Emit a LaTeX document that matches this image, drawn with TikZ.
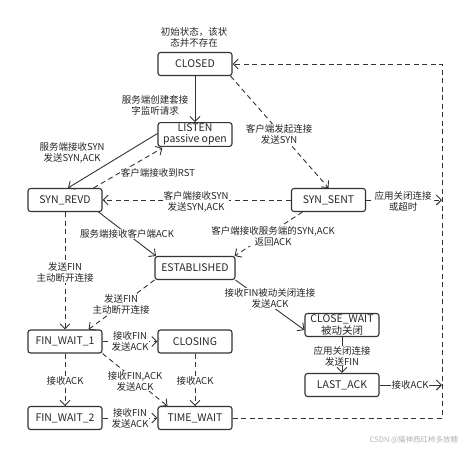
\documentclass[tikz,border=0pt]{standalone}
\usepackage{fontspec}
\setmainfont{Noto Sans CJK SC}
\usetikzlibrary{arrows.meta}
\begin{document}
\begin{tikzpicture}[x=1pt,y=-1pt,
  st/.style={draw=black!80, line width=1.1pt, rounded corners=2.5pt, minimum width=74pt, minimum height=23pt, inner sep=1pt, font=\fontsize{10.5}{11.5}\selectfont, align=center, text=black!85},
  lbl/.style={font=\fontsize{9.5}{11}\selectfont, align=center, inner sep=0.5pt, text=black!85, fill=white},
  ar/.style={draw=black!80, line width=0.9pt, -{Straight Barb[length=5pt,width=10pt]}},
  da/.style={ar, dash pattern=on 5pt off 3.5pt}]
\useasboundingbox (0,0) rectangle (474,448);

% states
\node[st] (closed) at (195,64) {CLOSED};
\node[st] (listen) at (195,134.5) {LISTEN\\passive open};
\node[st] (synrevd) at (65,200) {SYN\_REVD};
\node[st] (synsent) at (328.5,200) {SYN\_SENT};
\node[st, minimum width=80pt] (est) at (195,268) {ESTABLISHED};
\node[st] (fw1) at (65,341.5) {FIN\_WAIT\_1};
\node[st] (closing) at (195,341.5) {CLOSING};
\node[st] (fw2) at (65,418) {FIN\_WAIT\_2};
\node[st] (tw) at (195,418) {TIME\_WAIT};
\node[st] (cw) at (342,325) {CLOSE\_WAIT\\被动关闭};
\node[st] (la) at (342,385) {LAST\_ACK};

% right-hand return line
\coordinate (rt) at (442,64);
\coordinate (r1) at (442,200);
\coordinate (r2) at (442,385);
\coordinate (rb) at (442,418);

\node[lbl, fill=none] (init) at (194,37.5) {初始状态，该状\\态并不存在};

% edges
\draw[ar] (closed) -- (listen);
\node[lbl] at (155,105.5) {服务端创建套接\\字监听请求};

\draw[ar] ([yshift=1pt]listen.west) -- ([xshift=3pt]synrevd.north);
\node[lbl, fill=none] at (72,153) {服务端接收SYN\\发送SYN,ACK};

\draw[da] ([xshift=-9pt]synrevd.north east) -- ([xshift=5pt,yshift=-1pt]listen.south west);
\node[lbl] at (158,173) {客户端接收到RST};

\draw[da] ([xshift=-2pt]closed.south east) -- (synsent.north);
\node[lbl] at (279,134) {客户端发起连接\\发送SYN};

\draw[da] (synsent) -- (synrevd);
\node[lbl] at (196,201.5) {客户端接收SYN\\发送SYN,ACK};

\draw[ar] ([xshift=-4pt]synrevd.south east) -- ([xshift=1.5pt]est.north west);
\node[lbl] at (127,234) {服务端接收客户端ACK};

\draw[da] ([xshift=-26pt]synsent.south) -- ([xshift=-1pt]est.north east);
\node[lbl] at (273,236) {客户端接收服务端的SYN,ACK\\返回ACK};

\draw[da] (synsent) -- (r1);
\node[lbl] at (403,201) {应用关闭连接\\或超时};

\draw[da] (tw) -- (rb) -- (rt) -- (closed);

\draw[ar] (est.south east) -- ([yshift=-5pt]cw.west);
\node[lbl] at (270,298.5) {接收FIN被动关闭连接\\发送ACK};

\draw[ar] (cw) -- (la);
\node[lbl] at (342,356) {应用关闭连接\\发送FIN};

\draw[ar] (la) -- (r2);
\node[lbl] at (410,385) {接收ACK};

\draw[da] (synrevd) -- (fw1);
\node[lbl] at (65,272.5) {发送FIN\\主动断开连接};

\draw[da] (est.south west) -- ([xshift=-14pt]fw1.north east);
\node[lbl] at (121,304.5) {发送FIN\\主动断开连接};

\draw[da] (fw1) -- (closing);
\node[lbl] at (130,341.5) {接收FIN\\发送ACK};

\draw[da] (fw1) -- (fw2);
\node[lbl] at (65,381) {接收ACK};

\draw[da] (fw1.south east) -- ([xshift=10pt]tw.north west);
\node[lbl] at (135,381) {接收FIN,ACK\\发送ACK};

\draw[da] (closing) -- (tw);
\node[lbl] at (195,381) {接收ACK};

\draw[da] (fw2) -- (tw);
\node[lbl] at (130,418.5) {接收FIN\\发送ACK};

\node[font=\fontsize{7.5}{8}\selectfont, text=black!30, inner sep=0pt] (wm) at (414,440) {CSDN @猫神西红柿多放糖};
\end{tikzpicture}
\end{document}
